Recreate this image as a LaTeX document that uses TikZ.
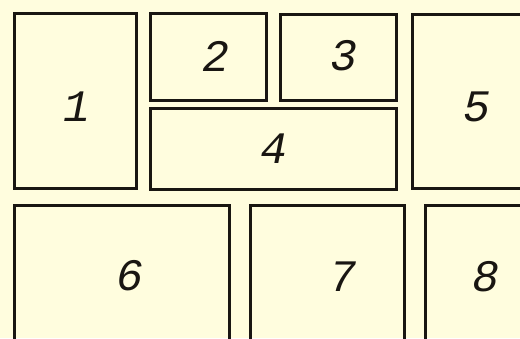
\documentclass[tikz,border=0pt]{standalone}
\usepackage{fontspec}
\newfontfamily\labfont{Liberation Mono}
\definecolor{paper}{RGB}{255,253,222}
\definecolor{ink}{RGB}{25,22,18}
\begin{document}
\begin{tikzpicture}[x=1pt,y=-1pt,
  panel/.style={draw=ink,line width=2.6pt,rectangle,inner sep=0pt,anchor=north west},
  lab/.style={font=\labfont\itshape\fontsize{45}{45}\selectfont,text=ink,inner sep=0pt}]
\fill[paper] (0,0) rectangle (520,338);
\useasboundingbox (0,0) rectangle (520,338);
\clip (0,0) rectangle (520,338);
\node[panel,minimum width=122pt,minimum height=175pt] (p1) at (13,12) {};
\node[panel,minimum width=116pt,minimum height=87pt] (p2) at (149,12) {};
\node[panel,minimum width=116pt,minimum height=86pt] (p3) at (279,13) {};
\node[panel,minimum width=246pt,minimum height=81pt] (p4) at (149,107) {};
\node[panel,minimum width=120pt,minimum height=174pt] (p5) at (411,13) {};
\node[panel,minimum width=215pt,minimum height=150pt] (p6) at (13,204) {};
\node[panel,minimum width=154pt,minimum height=150pt] (p7) at (249,204) {};
\node[panel,minimum width=110pt,minimum height=150pt] (p8) at (424,204) {};
\node[lab] (l1) at (77,107) {1};
\node[lab] (l2) at (216,56) {2};
\node[lab] (l3) at (344,56) {3};
\node[lab] (l4) at (274,149) {4};
\node[lab] (l5) at (477,107) {5};
\node[lab] (l6) at (130,276) {6};
\node[lab] (l7) at (343,277) {7};
\node[lab] (l8) at (486,277) {8};
\end{tikzpicture}
\end{document}
